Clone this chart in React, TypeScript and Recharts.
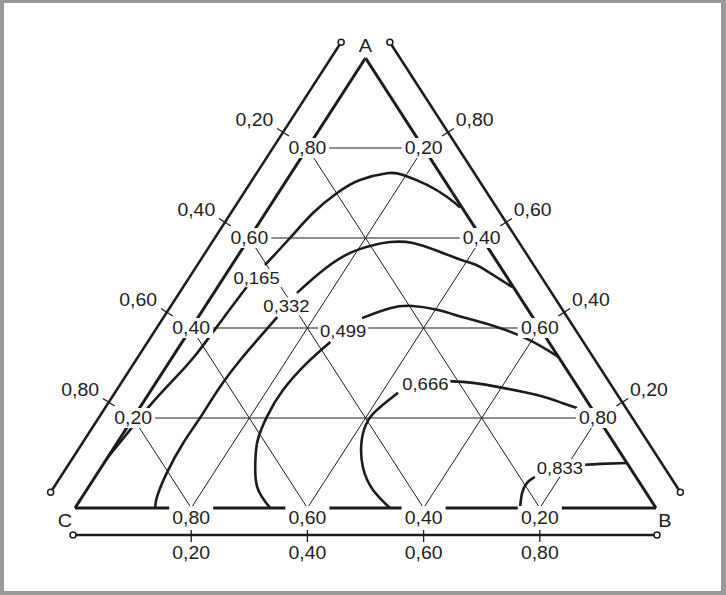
import { ComposedChart, XAxis, YAxis, Line, Scatter } from 'recharts';

// ternary diagram, points given as [a, b] (c = 1 - a - b)
const gridLevels = [0.2, 0.4, 0.6, 0.8];
const contourValues = [0.165, 0.332, 0.499, 0.666, 0.833];

// null marks the break where the value label sits
const curve165 = [
  [0.111, 0.0], [0.173, 0.008], [0.233, 0.016], [0.289, 0.028], [0.344, 0.038],
  [0.418, 0.044], [0.491, 0.05], null,
  [0.54, 0.057], [0.6, 0.07], [0.656, 0.082], [0.7, 0.101], [0.729, 0.126],
  [0.744, 0.165], [0.74, 0.195], [0.718, 0.247], [0.691, 0.295], [0.668, 0.329],
];
const curve332 = [
  [0.0, 0.138], [0.024, 0.129], [0.078, 0.119], [0.144, 0.114], [0.2, 0.115],
  [0.269, 0.115], [0.329, 0.12], [0.373, 0.127], [0.424, 0.136], null,
  [0.478, 0.143], [0.529, 0.163], [0.567, 0.19], [0.584, 0.221], [0.591, 0.247],
  [0.589, 0.287], [0.569, 0.344], [0.547, 0.401], [0.536, 0.429], [0.491, 0.507],
];
const curve499 = [
  [0.0, 0.336], [0.047, 0.29], [0.107, 0.257], [0.151, 0.239], [0.202, 0.229],
  [0.262, 0.227], [0.322, 0.238], [0.369, 0.255], null,
  [0.422, 0.283], [0.444, 0.32], [0.449, 0.357], [0.44, 0.405], [0.424, 0.456],
  [0.402, 0.525], [0.373, 0.596], [0.336, 0.664],
];
const curve666 = [
  [0.0, 0.542], [0.04, 0.493], [0.091, 0.45], [0.151, 0.418], [0.196, 0.407],
  [0.224, 0.413], [0.256, 0.428], null,
  [0.282, 0.504], [0.278, 0.546], [0.267, 0.603], [0.251, 0.67], [0.233, 0.723],
  [0.222, 0.753],
];
const curve833 = [
  [0.0, 0.766], [0.033, 0.753], [0.056, 0.75], [0.069, 0.757], null,
  [0.096, 0.83], [0.098, 0.855], [0.1, 0.9],
];
const contourLabelAt = [
  [0.511, 0.057], [0.448, 0.14], [0.393, 0.265], [0.276, 0.465], [0.089, 0.79],
];
const vertexNames = ['A', 'B', 'C'];

// layout (pixels)
const W = 726;
const H = 595;
const X0 = 75;
const Y0 = 508;
const SX = 581;
const SY = 450;
const INK = '#1c1c1c';
const FONT = '"Liberation Sans", Arial, Helvetica, sans-serif';

const toPt = (a: number, b: number) => ({ x: b + a / 2, y: a });
const nudge = (p: { x: number; y: number }, dx: number, dy: number) => ({
  x: p.x + dx / SX,
  y: p.y - dy / SY,
});
const fmt = (v: number, d = 2) => v.toFixed(d).replace('.', ',');

const A = toPt(1, 0);
const B = toPt(0, 1);
const C = toPt(0, 0);

const edgeLen = Math.hypot(SX / 2, SY);
const nL = [-SY / edgeLen, -SX / 2 / edgeLen];
const nR = [SY / edgeLen, -SX / 2 / edgeLen];
const GAP = 29;

const outerLeft = [nudge(C, nL[0] * GAP, nL[1] * GAP), nudge(A, nL[0] * GAP, nL[1] * GAP)];
const outerRight = [nudge(B, nR[0] * GAP, nR[1] * GAP), nudge(A, nR[0] * GAP, nR[1] * GAP)];
const outerBottom = [nudge(C, -2, 27), nudge(B, 1, 27)];

const gridLines = gridLevels.flatMap((v) => [
  [toPt(v, 0), toPt(v, 1 - v)],
  [toPt(0, v), toPt(1 - v, v)],
  [toPt(0, 1 - v), toPt(1 - v, 0)],
]);

const ticks = gridLevels.flatMap((v) => {
  const l = toPt(v, 0);
  const r = toPt(v, 1 - v);
  const b = toPt(0, v);
  return [
    [nudge(l, nL[0] * 22, nL[1] * 22), nudge(l, nL[0] * 36, nL[1] * 36)],
    [nudge(r, nR[0] * 22, nR[1] * 22), nudge(r, nR[0] * 36, nR[1] * 36)],
    [nudge(b, 0, 21), nudge(b, 0, 34)],
  ];
});

const curvePts = (list: (number[] | null)[]) => {
  let last = 0;
  return list.map((p) => {
    if (!p) return { x: last, y: null };
    const q = toPt(p[0], p[1]);
    last = q.x;
    return q;
  });
};
const contours = [curve165, curve332, curve499, curve666, curve833].map(curvePts);

const innerLabels = gridLevels.flatMap((v) => [
  { ...toPt(v, 0), text: fmt(v) },
  { ...toPt(v, 1 - v), text: fmt(1 - v) },
]);
const bottomLabels = gridLevels.map((v) => ({ ...nudge(toPt(0, v), 0, 10), text: fmt(1 - v) }));
const outerLabels = gridLevels.flatMap((v) => [
  { ...nudge(toPt(v, 0), -53, -28), text: fmt(1 - v) },
  { ...nudge(toPt(v, 1 - v), 51, -28), text: fmt(v) },
  { ...nudge(toPt(0, v), 0, 45), text: fmt(v) },
]);
const contourLabels = contourValues.map((v, i) => ({
  ...toPt(contourLabelAt[i][0], contourLabelAt[i][1]),
  text: fmt(v, 3),
}));
const vertexLabels = [
  { ...nudge(A, 0, -13), text: vertexNames[0] },
  { ...nudge(B, 9, 12), text: vertexNames[1] },
  { ...nudge(C, -10, 12), text: vertexNames[2] },
];
const endPoints = [...outerLeft, ...outerRight, ...outerBottom];

function TextMark(props: any) {
  const { cx, cy, payload, size, stretch, boxW, boxH } = props;
  if (cx == null || cy == null) return null;
  return (
    <g>
      {boxW ? (
        <rect x={cx - boxW / 2} y={cy - boxH / 2} width={boxW} height={boxH} fill="#fff" />
      ) : null}
      <text
        x={cx}
        y={cy + size * 0.36}
        textAnchor="middle"
        fontSize={size}
        fontFamily={FONT}
        fill="#222"
        transform={`translate(${cx} 0) scale(${stretch} 1) translate(${-cx} 0)`}
      >
        {payload.text}
      </text>
    </g>
  );
}

function seg(key: string, data: any[], width: number, type: any = 'linear') {
  return (
    <Line
      key={key}
      data={data}
      dataKey="y"
      type={type}
      stroke={INK}
      strokeWidth={width}
      dot={false}
      activeDot={false}
      isAnimationActive={false}
    />
  );
}

export default function App() {
  return (
    <div style={{ position: 'absolute', left: 0, top: 0, width: W, height: H, background: '#999' }}>
      <div style={{ position: 'absolute', left: 4, top: 3, width: 717, height: 588, background: '#fff' }} />
      <div style={{ position: 'absolute', left: 0, top: 0 }}>
        <ComposedChart width={W} height={H} margin={{ top: 0, right: 0, bottom: 0, left: 0 }}>
          <XAxis
            type="number"
            dataKey="x"
            domain={[-X0 / SX, (W - X0) / SX]}
            allowDataOverflow
            hide
          />
          <YAxis
            type="number"
            dataKey="y"
            domain={[(Y0 - H) / SY, Y0 / SY]}
            allowDataOverflow
            hide
          />
          {gridLines.map((g, i) => seg(`g${i}`, g, 1))}
          {seg('eCA', [C, A], 3)}
          {seg('eAB', [A, B], 3)}
          {seg('eCB', [C, B], 3)}
          {seg('oL', outerLeft, 2.5)}
          {seg('oR', outerRight, 2.5)}
          {seg('oB', outerBottom, 2.5)}
          {ticks.map((t, i) => seg(`t${i}`, t, 1.3))}
          {contours.map((c, i) => seg(`c${i}`, c, 2.6, 'natural'))}
          <Scatter
            data={innerLabels}
            isAnimationActive={false}
            shape={(p: any) => <TextMark {...p} size={18} stretch={1.08} boxW={44} boxH={20} />}
          />
          <Scatter
            data={bottomLabels}
            isAnimationActive={false}
            shape={(p: any) => <TextMark {...p} size={18} stretch={1.08} boxW={44} boxH={24} />}
          />
          <Scatter
            data={contourLabels}
            isAnimationActive={false}
            shape={(p: any) => <TextMark {...p} size={16.5} stretch={1.12} boxW={50} boxH={18} />}
          />
          <Scatter
            data={outerLabels}
            isAnimationActive={false}
            shape={(p: any) => <TextMark {...p} size={18} stretch={1.08} />}
          />
          <Scatter
            data={vertexLabels}
            isAnimationActive={false}
            shape={(p: any) => <TextMark {...p} size={19} stretch={1.05} />}
          />
          <Scatter
            data={endPoints}
            isAnimationActive={false}
            shape={(p: any) => (
              <circle cx={p.cx} cy={p.cy} r={3} fill="#fff" stroke={INK} strokeWidth={1.5} />
            )}
          />
        </ComposedChart>
      </div>
    </div>
  );
}
